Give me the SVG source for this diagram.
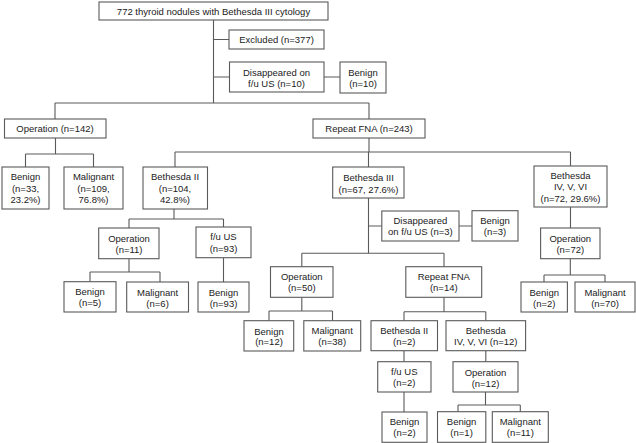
<svg xmlns="http://www.w3.org/2000/svg" width="636" height="443" viewBox="0 0 636 443">
<style>
rect{fill:#fff;stroke:#5a5a5a;stroke-width:1.1}
text{font-family:"Liberation Sans",Arial,sans-serif;font-size:9.5px;fill:#222;text-anchor:middle}
#connectors path{fill:none;stroke:#5a5a5a;stroke-width:1.1}
</style>
<rect x="0" y="0" width="636" height="443" style="fill:#fff;stroke:none"/>
<g id="connectors">
<path d="M213.5 20V103M213.5 39.5H229M213.5 77H229.5M324 77H340"/>
<path d="M55 103H369M55 103V119M369 103V119"/>
<path d="M55.5 138V154M25.5 154H93.5M25.5 154V167M93.5 154V167"/>
<path d="M369 138V152M175 152H570.5M175 152V167M368.5 152V167M570.5 152V166"/>
<path d="M174 209V219M129 219H223.5M129 219V228M223.5 219V227"/>
<path d="M129 258.7V272M90 272H160M90 272V281.7M160 272V282M223.5 257.7V282"/>
<path d="M368.5 198V253.3M368.5 226H381.8M459 226H472"/>
<path d="M301.8 253.3H444M301.8 253.3V266.7M444 253.3V266.7"/>
<path d="M301.8 297.3V311M269 311H332.5M269 311V320.7M332.5 311V320.7"/>
<path d="M444 297.3V311.7M404 311.7H485.8M404 311.7V320.7M485.8 311.7V320.7"/>
<path d="M404 350.7V361.7M404 392V412"/>
<path d="M485.8 350.7V361.7M485.5 392V405M458 405H520.3M458 405V411.7M520.3 405V411.7"/>
<path d="M570.5 207V228M570.3 258.7V275M544 275H605M544 275V282M605 275V282"/>
</g>
<g id="n1"><rect x="99" y="2" width="229" height="18"/><text x="213.5" y="14.5">772 thyroid nodules with Bethesda III cytology</text></g>
<g id="n2"><rect x="229" y="30" width="95" height="19"/><text x="276.5" y="43">Excluded (n=377)</text></g>
<g id="n3"><rect x="229.5" y="62" width="94.5" height="30"/><text x="276.5" y="75.5">Disappeared on</text><text x="276.5" y="86.5">f/u US (n=10)</text></g>
<g id="n4"><rect x="340" y="62" width="46" height="31"/><text x="363" y="75.5">Benign</text><text x="363" y="86.5">(n=10)</text></g>
<g id="n5"><rect x="4.5" y="119" width="101.5" height="19"/><text x="55" y="132">Operation (n=142)</text></g>
<g id="n6"><rect x="313" y="119" width="112" height="19"/><text x="369" y="132">Repeat FNA (n=243)</text></g>
<g id="n7"><rect x="2" y="167" width="47" height="42"/><text x="25.5" y="180.2">Benign</text><text x="25.5" y="191.5">(n=33,</text><text x="25.5" y="202.8">23.2%)</text></g>
<g id="n8"><rect x="64" y="167" width="59" height="42"/><text x="93.5" y="180.2">Malignant</text><text x="93.5" y="191.5">(n=109,</text><text x="93.5" y="202.8">76.8%)</text></g>
<g id="n9"><rect x="143" y="167" width="64.5" height="42"/><text x="175" y="180.2">Bethesda II</text><text x="175" y="191.5">(n=104,</text><text x="175" y="202.8">42.8%)</text></g>
<g id="n10"><rect x="332.7" y="167" width="71.3" height="31"/><text x="368.5" y="181">Bethesda III</text><text x="368.5" y="192.5">(n=67, 27.6%)</text></g>
<g id="n11"><rect x="534" y="166" width="73" height="41"/><text x="570.5" y="179.2">Bethesda</text><text x="570.5" y="190.2">IV, V, VI</text><text x="570.5" y="201.8">(n=72, 29.6%)</text></g>
<g id="n12"><rect x="98.7" y="228" width="60.3" height="30.7"/><text x="129" y="241.5">Operation</text><text x="129" y="252.5">(n=11)</text></g>
<g id="n13"><rect x="196" y="227" width="55" height="30.7"/><text x="223.5" y="240.2">f/u US</text><text x="223.5" y="251.5">(n=93)</text></g>
<g id="n14"><rect x="64" y="281.7" width="52" height="30.3"/><text x="90" y="295.2">Benign</text><text x="90" y="306.2">(n=5)</text></g>
<g id="n15"><rect x="126.7" y="282" width="61.8" height="30"/><text x="157.6" y="295.5">Malignant</text><text x="157.6" y="306.5">(n=6)</text></g>
<g id="n16"><rect x="198" y="282" width="51" height="30"/><text x="223.5" y="295.5">Benign</text><text x="223.5" y="306.5">(n=93)</text></g>
<g id="n17"><rect x="381.8" y="211" width="77.2" height="30"/><text x="420.4" y="224.2">Disappeared</text><text x="420.4" y="235.2">on f/u US (n=3)</text></g>
<g id="n18"><rect x="472" y="210.7" width="46" height="30.3"/><text x="495" y="224.2">Benign</text><text x="495" y="235.2">(n=3)</text></g>
<g id="n19"><rect x="270.5" y="266.7" width="62.5" height="30.6"/><text x="301.8" y="280.2">Operation</text><text x="301.8" y="291.2">(n=50)</text></g>
<g id="n20"><rect x="405.8" y="266.7" width="75.9" height="30.6"/><text x="443.8" y="280.2">Repeat FNA</text><text x="443.8" y="291.2">(n=14)</text></g>
<g id="n21"><rect x="244" y="320.7" width="49.7" height="30.3"/><text x="269" y="334.5">Benign</text><text x="269" y="345.2">(n=12)</text></g>
<g id="n22"><rect x="303.8" y="320.7" width="56.9" height="30.3"/><text x="332.2" y="334">Malignant</text><text x="332.2" y="345">(n=38)</text></g>
<g id="n23"><rect x="371" y="320.7" width="66.5" height="30"/><text x="404.2" y="333.5">Bethesda II</text><text x="404.2" y="344.5">(n=2)</text></g>
<g id="n24"><rect x="446" y="320.7" width="79.6" height="30"/><text x="485.8" y="333.5">Bethesda</text><text x="485.8" y="344.5">IV, V, VI (n=12)</text></g>
<g id="n25"><rect x="377.7" y="361.7" width="53.3" height="30.3"/><text x="404.3" y="374.8">f/u US</text><text x="404.3" y="386.2">(n=2)</text></g>
<g id="n26"><rect x="382" y="412" width="45" height="30.3"/><text x="404.5" y="425.2">Benign</text><text x="404.5" y="436.2">(n=2)</text></g>
<g id="n27"><rect x="453" y="361.7" width="65" height="30.3"/><text x="485.5" y="375.5">Operation</text><text x="485.5" y="386.5">(n=12)</text></g>
<g id="n28"><rect x="437.5" y="411.7" width="48.3" height="30.6"/><text x="461.6" y="425.2">Benign</text><text x="461.6" y="436.2">(n=1)</text></g>
<g id="n29"><rect x="492.3" y="411.7" width="56" height="30.6"/><text x="520.3" y="425.2">Malignant</text><text x="520.3" y="436.2">(n=11)</text></g>
<g id="n30"><rect x="540.6" y="228" width="59.4" height="30.7"/><text x="570.3" y="241.5">Operation</text><text x="570.3" y="252.5">(n=72)</text></g>
<g id="n31"><rect x="521" y="282" width="46.4" height="30"/><text x="544.2" y="295.5">Benign</text><text x="544.2" y="306.5">(n=2)</text></g>
<g id="n32"><rect x="575" y="282" width="60" height="30"/><text x="605" y="295.5">Malignant</text><text x="605" y="306.5">(n=70)</text></g>
</svg>
